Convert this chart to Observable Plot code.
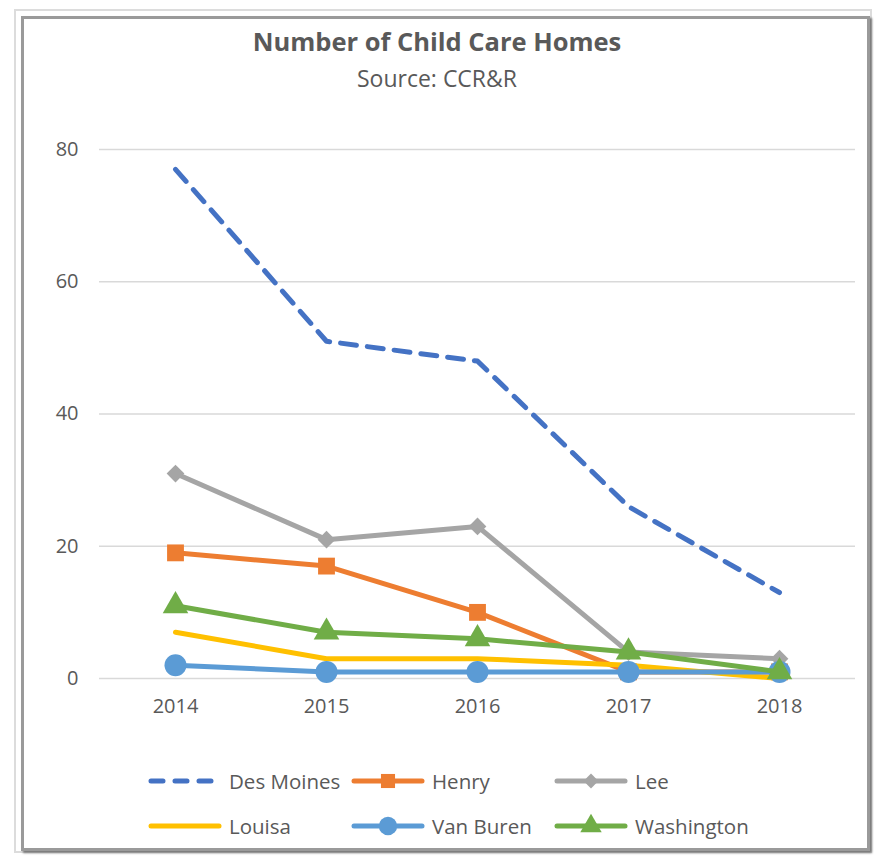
<!DOCTYPE html>
<html><head><meta charset="utf-8">
<script src="https://cdn.jsdelivr.net/npm/d3@7"></script>
<script src="https://cdn.jsdelivr.net/npm/@observablehq/plot@0.6"></script>
<style>
body{margin:0;background:#fff;font-family:"Open Sans",sans-serif;}
#wrap{position:relative;width:874px;height:857px;overflow:hidden;background:#fff;}
.f1{position:absolute;left:14px;top:9px;width:854px;height:840px;border:2px solid #dcdcdc;}
.f2{position:absolute;left:21px;top:16px;width:843px;height:829px;border:3px solid #9a9a9a;box-shadow:2px 2px 2px #777;}
.t{position:absolute;left:0;width:874px;text-align:center;color:#595959;line-height:1;}
#chart{position:absolute;left:0;top:110px;}
.lg{position:absolute;display:flex;align-items:center;color:#595959;font-size:20.5px;}
.lg svg{margin-right:6px;}
</style></head>
<body><div id="wrap">
<div class="f1"></div><div class="f2"></div>
<div class="t" style="top:29px;font-size:25.5px;font-weight:bold;">Number of Child Care Homes</div>
<div class="t" style="top:67px;font-size:23px;">Source: CCR&amp;R</div>
<div id="chart"></div>
<div id="legend"></div>
</div>
<script>
const years = ["2014","2015","2016","2017","2018"];
const desMoines = [77,51,48,26,13];
const henry = [19,17,10,1,1];
const lee = [31,21,23,4,3];
const louisa = [7,3,3,2,0];
const vanBuren = [2,1,1,1,1];
const washington = [11,7,6,4,1];
const yTicks = [0,20,40,60,80];

const series = [
  {name:"Des Moines", values:desMoines, color:"#4472C4", dash:"16 11", symbol:null},
  {name:"Henry", values:henry, color:"#ED7D31", dash:null, symbol:"square", r:9.5},
  {name:"Lee", values:lee, color:"#A5A5A5", dash:null, symbol:"diamond2", r:8},
  {name:"Louisa", values:louisa, color:"#FFC000", dash:null, symbol:null},
  {name:"Van Buren", values:vanBuren, color:"#5B9BD5", dash:null, symbol:"circle", r:11},
  {name:"Washington", values:washington, color:"#70AD47", dash:null, symbol:"triangle", r:9.5}
];

const marks = [
  Plot.ruleY(yTicks, {stroke:"#d9d9d9", strokeWidth:1.3}),
  Plot.axisY(yTicks, {tickSize:0, tickPadding:21, fontSize:20, fill:"#595959"}),
  Plot.axisX({tickSize:0, tickPadding:20, fontSize:20, fill:"#595959"})
];
for (const s of series) {
  const data = years.map((y,i)=>({year:y, value:s.values[i]}));
  marks.push(Plot.line(data, {x:"year", y:"value", stroke:s.color, strokeWidth:5, strokeDasharray:s.dash||undefined, strokeLinejoin:"round"}));
  if (s.symbol) marks.push(Plot.dot(data, {x:"year", y:"value", fill:s.color, stroke:"none", symbol:s.symbol, r:s.r}));
}

const plot = Plot.plot({
  width:874, height:630,
  marginLeft:99, marginRight:19, marginTop:39, marginBottom:62,
  style:{fontFamily:"'Open Sans', sans-serif", fontSize:"20px", color:"#595959", background:"transparent", overflow:"visible"},
  x:{type:"point", domain:years, padding:0.5, label:null},
  y:{domain:[0,80], label:null},
  marks
});
document.getElementById("chart").appendChild(plot);

// legend
const pos = [[147,781],[350,781],[553,781],[147,826],[350,826],[553,826]];
const legend = document.getElementById("legend");
const symMap = {square:d3.symbolSquare, diamond2:d3.symbolDiamond2, circle:d3.symbolCircle, triangle:d3.symbolTriangle};
series.forEach((s,i)=>{
  const div = document.createElement("div");
  div.className="lg";
  div.style.left = pos[i][0]+"px";
  div.style.top = (pos[i][1]-14)+"px";
  div.style.height = "28px";
  const w = 76;
  const svg = d3.create("svg").attr("width",w).attr("height",28);
  svg.append("line").attr("x1",4).attr("x2",w-4).attr("y1",14).attr("y2",14)
    .attr("stroke",s.color).attr("stroke-width",5).attr("stroke-linecap","round")
    .attr("stroke-dasharray", s.dash?"12 12":null);
  if (s.symbol) {
    const area = Math.PI*s.r*s.r*0.7;
    svg.append("path").attr("d", d3.symbol(symMap[s.symbol], area)()).attr("transform",`translate(${w/2},14)`).attr("fill",s.color);
  }
  div.appendChild(svg.node());
  const sp = document.createElement("span"); sp.textContent = s.name;
  div.appendChild(sp);
  legend.appendChild(div);
});
</script>
</body></html>
